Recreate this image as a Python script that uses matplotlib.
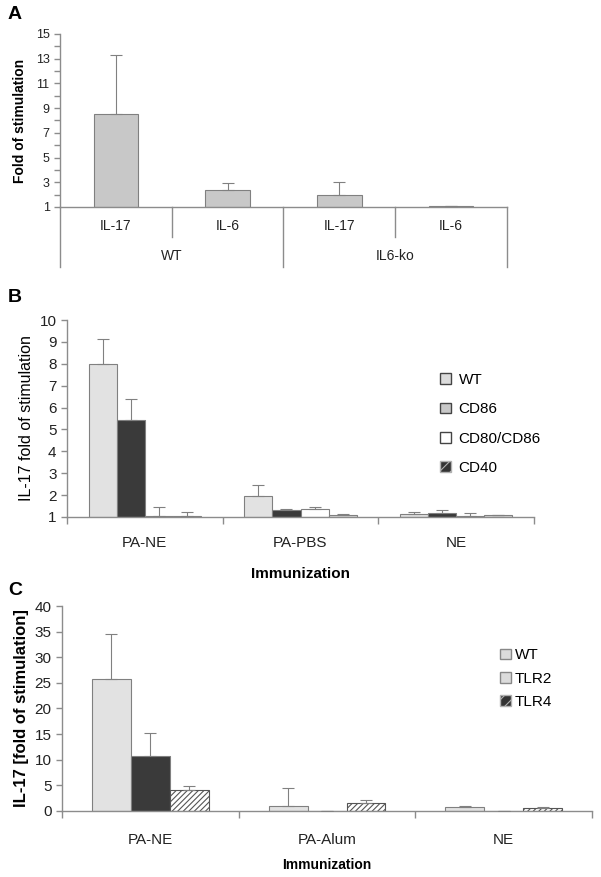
import matplotlib
matplotlib.use("Agg")
import matplotlib.pyplot as plt
from matplotlib.patches import Patch

plt.rcParams['font.family'] = ['Liberation Sans', 'DejaVu Sans']
plt.rcParams['hatch.linewidth'] = 0.8

# panel A
a_cytokines = ["IL-17", "IL-6", "IL-17", "IL-6"]
a_strains = ["WT", "IL6-ko"]
a_values = [8.5, 2.4, 2.0, 1.05]
a_err = [4.8, 0.5, 1.0, 0.05]

# panel B
b_groups = ["PA-NE", "PA-PBS", "NE"]
b_series = ["WT", "CD86", "CD80/CD86", "CD40"]
b_values = [
    [8.0, 1.95, 1.12],
    [5.45, 1.32, 1.2],
    [1.05, 1.35, 1.05],
    [1.05, 1.08, 1.07],
]
b_err = [
    [1.15, 0.5, 0.13],
    [0.95, 0.06, 0.1],
    [0.4, 0.1, 0.15],
    [0.2, 0.04, 0.03],
]

# panel C
c_groups = ["PA-NE", "PA-Alum", "NE"]
c_series = ["WT", "TLR2", "TLR4"]
c_values = [
    [25.8, 1.0, 0.8],
    [10.8, 0.0, 0.0],
    [4.0, 1.5, 0.5],
]
c_err = [
    [8.7, 3.5, 0.2],
    [4.4, 0.0, 0.0],
    [0.8, 0.7, 0.2],
]

AX = "#8c8c8c"
EDGE = "#808080"


def style_axis(ax):
    for s in ["top", "right"]:
        ax.spines[s].set_visible(False)
    for s in ["left", "bottom"]:
        ax.spines[s].set_color(AX)
        ax.spines[s].set_linewidth(1.0)
    ax.tick_params(axis="y", colors=AX, labelcolor="#222222", direction="out", length=4, width=1)
    ax.tick_params(axis="x", colors=AX, labelcolor="#222222")


fig = plt.figure(figsize=(6.01, 8.77), dpi=100)

# ---------------- A ----------------
ax = fig.add_axes([0.0998, 0.764, 0.7438, 0.1973])
ax.bar(range(4), [v - 1 for v in a_values], bottom=1, width=0.4,
       color="#c8c8c8", edgecolor=EDGE, linewidth=0.8, zorder=2)
ax.errorbar(range(4), a_values, yerr=[[0] * 4, a_err], fmt="none",
            ecolor=EDGE, elinewidth=0.8, capsize=4, capthick=0.8, zorder=3)
ax.set_xlim(-0.5, 3.5)
ax.set_ylim(1, 15)
ax.set_yticks(range(1, 16))
ax.set_yticklabels([str(t) if t % 2 == 1 else "" for t in range(1, 16)], fontsize=9)
ax.set_xticks([])
style_axis(ax)
ax.set_ylabel("Fold of stimulation", fontsize=10, fontweight="bold", labelpad=6)
tr = ax.get_xaxis_transform()
for x, low in [(-0.5, -0.347), (0.5, -0.173), (1.5, -0.347), (2.5, -0.173), (3.5, -0.347)]:
    ax.plot([x, x], [0, low], color=AX, lw=1.0, transform=tr, clip_on=False)
for i, lab in enumerate(a_cytokines):
    ax.text(i, -0.11, lab, transform=tr, ha="center", va="center", fontsize=10, color="#222222")
for i, lab in enumerate(a_strains):
    ax.text(0.5 + 2 * i, -0.283, lab, transform=tr, ha="center", va="center", fontsize=10, color="#222222")
fig.text(0.013, 0.983, "A", fontsize=14, fontweight="bold", va="center")

# ---------------- B ----------------
ax = fig.add_axes([0.1115, 0.4105, 0.777, 0.2246])
b_colors = ["#e2e2e2", "#3a3a3a", "#ffffff", "#d8d8d8"]
w = 0.18
for i in range(4):
    xs = [g + (i - 1.5) * w for g in range(3)]
    ax.bar(xs, [v - 1 for v in b_values[i]], bottom=1, width=w,
           color=b_colors[i], edgecolor=EDGE, linewidth=0.8, zorder=2)
    ax.errorbar(xs, b_values[i], yerr=[[0] * 3, b_err[i]], fmt="none",
                ecolor=EDGE, elinewidth=0.8, capsize=4, capthick=0.8, zorder=3)
ax.set_xlim(-0.5, 2.5)
ax.set_ylim(1, 10)
ax.set_yticks(range(1, 11))
ax.set_yticklabels([str(t) for t in range(1, 11)], fontsize=11)
ax.set_xticks(range(3))
ax.set_xticklabels(b_groups, fontsize=11)
ax.set_xticks([-0.5, 0.5, 1.5, 2.5], minor=True)
ax.tick_params(axis="x", which="minor", length=5, width=1, colors=AX, direction="out")
style_axis(ax)
ax.tick_params(axis="x", length=0, pad=14)
ax.set_ylabel("IL-17 fold of stimulation", fontsize=11.5, labelpad=4)
ax.set_xlabel("Immunization", fontsize=11, fontweight="bold", labelpad=12)
b_handles = [
    Patch(facecolor="#dcdcdc", edgecolor="#444444"),
    Patch(facecolor="#c8c8c8", edgecolor="#444444"),
    Patch(facecolor="#ffffff", edgecolor="#444444"),
    Patch(facecolor="#333333", edgecolor="#b0b0b0", hatch="///"),
]
ax.legend(b_handles, b_series, loc="upper left", bbox_to_anchor=(0.77, 0.80),
          frameon=False, fontsize=11, handlelength=0.7, handleheight=0.7,
          handletextpad=0.5, labelspacing=1.0)
fig.text(0.013, 0.661, "B", fontsize=14, fontweight="bold", va="center")

# ---------------- C ----------------
ax = fig.add_axes([0.1032, 0.0753, 0.882, 0.2337])
c_colors = ["#e2e2e2", "#3a3a3a", "#ffffff"]
c_hatch = [None, None, "//////"]
w = 0.22
for i in range(3):
    xs = [g + (i - 1) * w for g in range(3)]
    ax.bar(xs, c_values[i], width=w, color=c_colors[i], edgecolor=EDGE if i < 2 else "#555555",
           linewidth=0.8, hatch=c_hatch[i], zorder=2)
    ax.errorbar(xs, c_values[i], yerr=[[0] * 3, c_err[i]], fmt="none",
                ecolor=EDGE, elinewidth=0.8, capsize=4, capthick=0.8, zorder=3)
ax.set_xlim(-0.5, 2.5)
ax.set_ylim(0, 40)
ax.set_yticks(range(0, 41, 5))
ax.set_yticklabels([str(t) for t in range(0, 41, 5)], fontsize=11)
ax.set_xticks(range(3))
ax.set_xticklabels(c_groups, fontsize=11)
ax.set_xticks([-0.5, 0.5, 1.5, 2.5], minor=True)
ax.tick_params(axis="x", which="minor", length=5, width=1, colors=AX, direction="out")
style_axis(ax)
ax.tick_params(axis="x", length=0, pad=16)
ax.set_ylabel("IL-17 [fold of stimulation]", fontsize=12, fontweight="bold", labelpad=4)
ax.set_xlabel("Immunization", fontsize=10, fontweight="bold", labelpad=8)
c_handles = [
    Patch(facecolor="#dcdcdc", edgecolor="#888888"),
    Patch(facecolor="#dcdcdc", edgecolor="#888888"),
    Patch(facecolor="#333333", edgecolor="#b0b0b0", hatch="///"),
]
ax.legend(c_handles, c_series, loc="upper left", bbox_to_anchor=(0.8, 0.86),
          frameon=False, fontsize=11, handlelength=0.7, handleheight=0.7,
          handletextpad=0.3, labelspacing=0.6)
fig.text(0.013, 0.327, "C", fontsize=14, fontweight="bold", va="center")

fig.savefig("out.png", dpi=100)
